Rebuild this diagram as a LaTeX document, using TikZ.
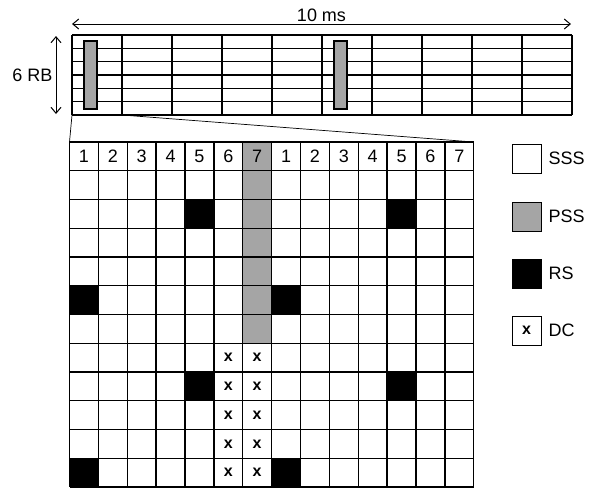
\documentclass[tikz,border=0pt]{standalone}
\usepackage{fontspec}
\setmainfont{Liberation Sans}
\usepackage{xcolor}
\usetikzlibrary{positioning,arrows.meta}
\definecolor{pssgray}{RGB}{165,165,165}

\begin{document}
\begin{tikzpicture}[x=1pt, y=-1pt,
  frame/.style={line width=1.1pt},
  cellgrid/.style={line width=1.3pt},
  pssbar/.style={draw, line width=1.1pt, fill=pssgray},
  key/.style={draw, line width=1pt, minimum size=29pt, inner sep=0pt},
  lbl/.style={font=\fontsize{18}{20}\selectfont, inner sep=0pt},
  head/.style={font=\fontsize{18}{20}\selectfont, inner sep=0pt},
  dcmark/.style={font=\fontsize{16}{18}\selectfont\bfseries, inner sep=0pt},
  span/.style={{Straight Barb[length=6pt,width=10pt]}-{Straight Barb[length=6pt,width=10pt]}, line width=1pt}]
  \useasboundingbox (0,0) rectangle (595,491);
  % radio frame: 10 subframes x 6 RB
  \foreach \i in {0,...,10} \draw[frame] ({72+50*\i},35) -- ({72+50*\i},115);
  \foreach \j in {0,...,6} \draw[frame] (72,{35+13.333*\j}) -- (572,{35+13.333*\j});
  \draw[pssbar] (84,41) rectangle (97,109);
  \draw[pssbar] (334,41) rectangle (347,109);
  \coordinate (msl) at (72,24);
  \coordinate (msr) at (571,24);
  \draw[span] (msl) -- node[lbl, above=2pt] (ms) {10 ms} (msr);
  \coordinate (rbt) at (56,36);
  \coordinate (rbb) at (56,114);
  \draw[span] (rbt) -- node[lbl, left=3pt] (rb) {6 RB} (rbb);
  % zoom of subframe 0
  \coordinate (sf0) at (72,115);
  \coordinate (sf1) at (122,115);
  \coordinate (g0) at (69.5,142);
  \coordinate (g1) at (473.75,142);
  \draw[line width=0.7pt] (sf0) -- (g0) (sf1) -- (g1);
  % resource grid: 2 slots x 7 symbols
  \fill[pssgray] ({69.5+6*28.875},142) rectangle ++(28.875,{7*28.75});
  \foreach \c/\r in {5/2,12/2,1/5,8/5,5/8,12/8,1/11,8/11}
    \fill ({69.5+(\c-1)*28.875},{142+\r*28.75}) rectangle ++(28.875,28.75);
  \foreach \i in {0,...,14} \draw[cellgrid] ({69.5+\i*28.875},142) -- ({69.5+\i*28.875},487);
  \foreach \j in {0,...,12} \draw[cellgrid] (69.5,{142+\j*28.75}) -- (473.75,{142+\j*28.75});
  \foreach \c in {1,...,14} {
    \pgfmathtruncatemacro\sym{mod(\c-1,7)+1}
    \node[head] (h\c) at ({69.5+(\c-0.5)*28.875},{142+0.5*28.75}) {\sym};
  }
  \foreach \c in {6,7} \foreach \r in {7,...,11}
    \node[dcmark] (dc\c-\r) at ({69.5+(\c-0.5)*28.875},{142+(\r+0.5)*28.75}) {x};
  % legend
  \node[key] (sss) at (526.5,158.5) {};
  \node[key, fill=pssgray] (pss) at (526.5,216.5) {};
  \node[key, fill=black] (rs) at (526.5,273.5) {};
  \node[key, dcmark] (dc) at (526.5,330.5) {x};
  \node[lbl, right=7pt of sss] (ssst) {SSS};
  \node[lbl, right=7pt of pss] (psst) {PSS};
  \node[lbl, right=7pt of rs] (rst) {RS};
  \node[lbl, right=7pt of dc] (dct) {DC};
\end{tikzpicture}
\end{document}
